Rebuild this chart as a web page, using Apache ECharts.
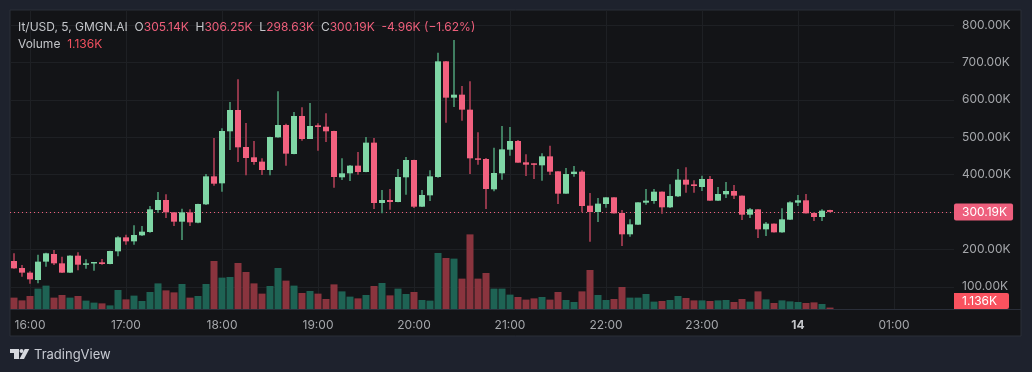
<!DOCTYPE html>
<html>
<head>
<meta charset="utf-8">
<style>
  html, body { margin: 0; padding: 0; background: #1e222d; }
  #main { width: 1032px; height: 372px; }
</style>
<script src="https://cdn.jsdelivr.net/npm/echarts@6/dist/echarts.min.js"></script>
</head>
<body>
<div id="main"></div>
<script>
// 价格单位 K，每根 5 分钟
const opens = [
  168.9,150.3,137.8,118.2,167.2,187.7,162.7,137.8,183.2,159.1,
  164.5,165.4,160.9,194.8,232.2,221.5,237.6,246.5,305.3,332.1,
  299.1,274.1,299.1,271.4,320.5,395.3,376.6,515.7,572.7,473.8,
  446.2,434.6,412.3,499.6,532.6,455.1,556.7,495.2,531.7,528.1,
  516.6,392.7,403.4,423.9,406.9,485.4,324.0,332.1,326.7,392.7,
  439.0,314.2,344.5,393.6,702.8,605.7,613.7,573.6,443.5,441.7,
  360.6,403.4,466.6,489.8,432.8,430.1,424.8,448.8,408.7,349.0,
  401.6,407.8,316.9,300.0,321.4,339.2,297.3,240.3,266.1,324.9,
  329.4,354.3,312.5,341.9,386.4,373.9,366.8,388.2,330.3,347.2,
  356.1,343.6,292.8,307.1,253.6,268.8,245.6,279.5,324.9,331.2,
  297.3,286.6,305.14
];
const closes = [
  149.3,137.8,119.9,167.2,189.5,162.7,137.8,183.2,159.1,162.7,
  166.3,160.9,195.7,232.2,221.5,238.5,247.4,307.1,332.1,299.1,
  274.1,299.1,272.3,321.4,395.3,375.7,516.6,572.7,472.9,444.4,
  433.7,412.3,500.5,532.6,456.0,556.7,495.2,529.9,527.2,515.7,
  393.6,403.4,423.9,406.9,485.4,324.0,332.1,326.7,393.6,439.0,
  314.2,345.4,395.3,702.8,605.7,613.7,573.6,443.5,439.9,361.5,
  404.2,467.5,489.8,431.9,426.5,426.5,448.8,407.8,349.0,401.6,
  407.8,316.0,300.0,322.3,339.2,296.4,240.3,267.0,325.8,330.3,
  354.3,312.5,342.8,386.4,373.1,369.5,388.2,330.3,348.1,356.1,
  343.6,292.8,307.1,253.6,268.8,245.6,280.4,325.8,331.2,296.4,
  286.6,303.5,300.19
];
const lows = [
  148.4,127.1,108.3,109.2,153.8,158.2,137.0,137.0,144.0,148.4,
  143.1,159.1,160.0,181.4,212.6,212.6,235.8,244.7,298.2,283.9,
  262.5,225.1,262.5,269.7,318.7,370.4,354.3,465.8,433.7,398.0,
  426.5,398.9,398.0,498.7,423.9,454.5,490.7,495.2,464.0,487.1,
  365.0,385.5,382.9,399.8,406.0,308.0,296.4,306.2,326.0,346.3,
  310.7,313.5,329.4,391.8,538.8,580.7,544.2,401.6,426.5,308.0,
  355.2,386.4,450.6,431.5,396.2,388.2,383.8,398.9,321.4,348.5,
  394.5,299.1,220.7,273.2,311.6,296.0,209.1,234.0,265.5,319.6,
  322.3,295.5,310.7,340.1,351.7,351.7,356.1,329.8,329.4,337.4,
  334.7,278.6,283.9,230.4,235.8,245.2,244.7,278.6,316.0,296.0,
  275.9,275.9,298.63
];
const highs = [
  189.5,158.2,141.3,185.9,191.2,198.4,180.5,184.0,192.1,173.4,
  166.3,174.3,196.5,234.9,239.4,264.3,262.5,316.0,353.5,347.2,
  299.5,308.9,307.1,322.0,401.6,497.8,523.7,594.1,654.7,537.9,
  489.8,443.5,501.4,622.6,536.2,567.4,579.8,591.4,537.1,563.8,
  517.5,443.5,425.6,460.4,500.5,497.8,358.8,361.5,414.9,447.0,
  439.5,358.8,411.4,726.0,703.5,759.9,636.9,649.4,513.0,444.4,
  472.0,529.9,527.2,492.5,454.2,430.5,456.8,477.3,409.2,417.6,
  423.0,411.4,350.8,337.4,339.7,339.7,305.3,280.4,326.3,361.5,
  361.5,354.8,373.9,414.9,419.4,384.6,397.1,396.2,366.8,380.2,
  372.2,344.0,310.7,307.6,273.2,269.2,309.8,328.5,345.4,348.1,
  299.1,307.1,306.25
];
const volumes = [
  9.1,6.9,10.4,16.3,18.7,9.1,11.2,9.1,10.4,6.7,
  5.1,4.5,2.9,15.2,7.7,10.7,6.4,13.6,20.5,14.9,
  13.3,20.0,9.1,10.4,20.0,38.4,25.1,25.6,36.8,29.6,
  20.5,12.3,18.4,32.8,22.7,18.7,12.8,14.4,12.3,8.0,
  19.7,14.1,9.9,8.5,11.2,18.4,20.8,10.9,16.3,12.0,
  13.6,7.2,6.7,44.8,40.8,40.3,24.3,59.7,24.3,28.8,
  16.3,16.3,11.5,9.6,7.5,8.5,9.6,7.5,13.6,7.2,
  5.6,14.1,31.2,11.2,7.2,8.0,17.6,9.1,9.1,12.0,
  5.9,6.4,7.2,10.4,8.8,6.9,6.9,6.4,6.9,7.2,
  5.6,8.0,5.9,14.1,7.7,4.8,6.9,6.1,5.6,4.8,
  5.3,4.0,1.136
];
const priceTicks = [100, 200, 300, 400, 500, 600, 700, 800];
const lastPrice = 300.19;

// 横轴 15:50 起，多留空白到 01:35
let times = [];
for(let k = 0; k < 118; k++) {
    let m = (15 * 60 + 50 + k * 5) % 1440;
    times.push(String(Math.floor(m / 60)).padStart(2, '0') + ':' + String(m % 60).padStart(2, '0'));
}
const isHour = (i, name) => name.slice(-2) === '00';

const UP = '#7fd6a5', UP_WICK = '#3f7d60', DOWN = '#f2617f', DOWN_WICK = '#8f3649';
const VOL_UP = '#1e6354', VOL_DOWN = '#8a343e';
const GRID_LINE = '#1e2024';
const FONT = 'Inter';

let candleData = opens.map((o, i) => [i, o, closes[i], lows[i], highs[i]]);
let volumeData = volumes.map((v, i) => ({
    value: v,
    itemStyle: {color: closes[i] >= opens[i] ? VOL_UP : VOL_DOWN}
}));

function renderCandle(params, api) {
    let i = api.value(0);
    let o = api.coord([i, api.value(1)])[1],
        c = api.coord([i, api.value(2)])[1],
        l = api.coord([i, api.value(3)])[1],
        h = api.coord([i, api.value(4)])[1],
        x = api.coord([i, 0])[0];
    let up = api.value(2) >= api.value(1);
    return {
        type: 'group',
        children: [
            {type: 'rect', shape: {x: x - 1, y: h, width: 2, height: l - h}, style: {fill: up ? UP_WICK : DOWN_WICK}},
            {type: 'rect', shape: {x: x - 3, y: Math.min(o, c), width: 6, height: Math.max(Math.abs(o - c), 1.5)}, style: {fill: up ? UP : DOWN}}
        ]
    };
}

let rich = {
    g: {color: '#c4c6ca', fontFamily: FONT, fontSize: 12, fontWeight: 'normal'},
    r: {color: '#ee5f7b', fontFamily: FONT, fontSize: 12, fontWeight: 'normal'},
    v: {color: '#f2505f', fontFamily: FONT, fontSize: 12, fontWeight: 'normal'}
};

let chart = echarts.init(document.getElementById('main'));
chart.setOption({
    animation: false,
    backgroundColor: '#1e222d',
    grid: [
        {left: 10, top: 10, width: 944, height: 299, show: false},
        {left: 10, top: 10, width: 944, height: 299, show: false}
    ],
    xAxis: [
        {
            type: 'category',
            gridIndex: 0,
            data: times,
            boundaryGap: true,
            axisLine: {show: false},
            axisTick: {show: false},
            splitLine: {show: true, interval: isHour, alignWithLabel: true, lineStyle: {color: GRID_LINE, width: 1}},
            axisLabel: {
                interval: isHour,
                margin: 10,
                color: '#a5a7ab',
                fontFamily: FONT,
                fontSize: 12,
                formatter: v => v === '00:00' ? '{b|14}' : v,
                rich: {b: {color: '#c4c6ca', fontFamily: FONT, fontSize: 12, fontWeight: 'bold'}}
            }
        },
        {type: 'category', gridIndex: 1, data: times, show: false}
    ],
    yAxis: [
        {
            type: 'value',
            gridIndex: 0,
            position: 'right',
            min: 40.6,
            max: 840.1,
            axisLine: {show: false},
            axisTick: {show: false, customValues: priceTicks},
            splitLine: {show: true, lineStyle: {color: GRID_LINE, width: 1}},
            axisLabel: {
                customValues: priceTicks,
                margin: 8,
                color: '#a5a7ab',
                fontFamily: FONT,
                fontSize: 12,
                formatter: v => v.toFixed(2) + 'K'
            }
        },
        {type: 'value', gridIndex: 1, min: 0, max: 239.2, show: false}
    ],
    series: [
        {
            name: 'Volume',
            type: 'bar',
            xAxisIndex: 1,
            yAxisIndex: 1,
            barWidth: 7,
            data: volumeData,
            z: 1
        },
        {
            name: 'It/USD',
            type: 'custom',
            xAxisIndex: 0,
            yAxisIndex: 0,
            encode: {x: 0, y: [1, 2, 3, 4]},
            data: candleData,
            renderItem: renderCandle,
            z: 3,
            markLine: {
                silent: true,
                symbol: 'none',
                z: 2,
                lineStyle: {color: '#ee5f7b', type: [1, 3], width: 1},
                label: {
                    position: 'end',
                    distance: 0,
                    formatter: v => v.value.toFixed(2) + 'K',
                    color: '#fff',
                    backgroundColor: '#ee5f7d',
                    fontFamily: FONT,
                    fontSize: 12,
                    padding: [3, 6, 2, 8],
                    borderRadius: 2
                },
                data: [{yAxis: lastPrice}]
            }
        }
    ],
    title: [
        {
            left: 18,
            top: 21,
            padding: 0,
            text: '{g|It/USD, 5, GMGN.AI  O}{r|305.14K}{g|  H}{r|306.25K}{g|  L}{r|298.63K}{g|  C}{r|300.19K  -4.96K (−1.62%)}',
            textStyle: {rich: rich}
        },
        {
            left: 18,
            top: 38,
            padding: 0,
            text: '{g|Volume  }{v|1.136K}',
            textStyle: {rich: rich}
        },
        {
            left: 34,
            top: 349,
            padding: 0,
            text: 'TradingView',
            textStyle: {color: '#c8cbd3', fontFamily: FONT, fontSize: 13, fontWeight: 'normal'}
        }
    ],
    graphic: [
        {type: 'rect', z: -10, shape: {x: 10, y: 10, width: 1011, height: 326}, style: {fill: '#131417', stroke: '#2a2e39', lineWidth: 1}},
        {type: 'line', z: -9, shape: {x1: 10, y1: 309.5, x2: 1021, y2: 309.5}, style: {stroke: '#2a2e39', lineWidth: 1}},
        {
            type: 'group',
            z: 100,
            children: [
                {type: 'rect', shape: {x: 954, y: 293, width: 55, height: 16, r: [0, 2, 2, 0]}, style: {fill: '#f9525f'}},
                {type: 'text', x: 962, y: 301, style: {text: '1.136K', fill: '#fff', font: '12px Inter', verticalAlign: 'middle'}}
            ]
        },
        {
            type: 'group',
            z: 100,
            children: [
                {type: 'polygon', shape: {points: [[10, 349], [19, 349], [19, 359], [14, 359], [14, 353], [10, 353]]}, style: {fill: '#d6d8de'}},
                {type: 'circle', shape: {cx: 21.5, cy: 351, r: 2}, style: {fill: '#d6d8de'}},
                {type: 'polygon', shape: {points: [[24.7, 349], [29.3, 349], [24, 359], [19.5, 359]]}, style: {fill: '#d6d8de'}}
            ]
        }
    ]
});
</script>
</body>
</html>
